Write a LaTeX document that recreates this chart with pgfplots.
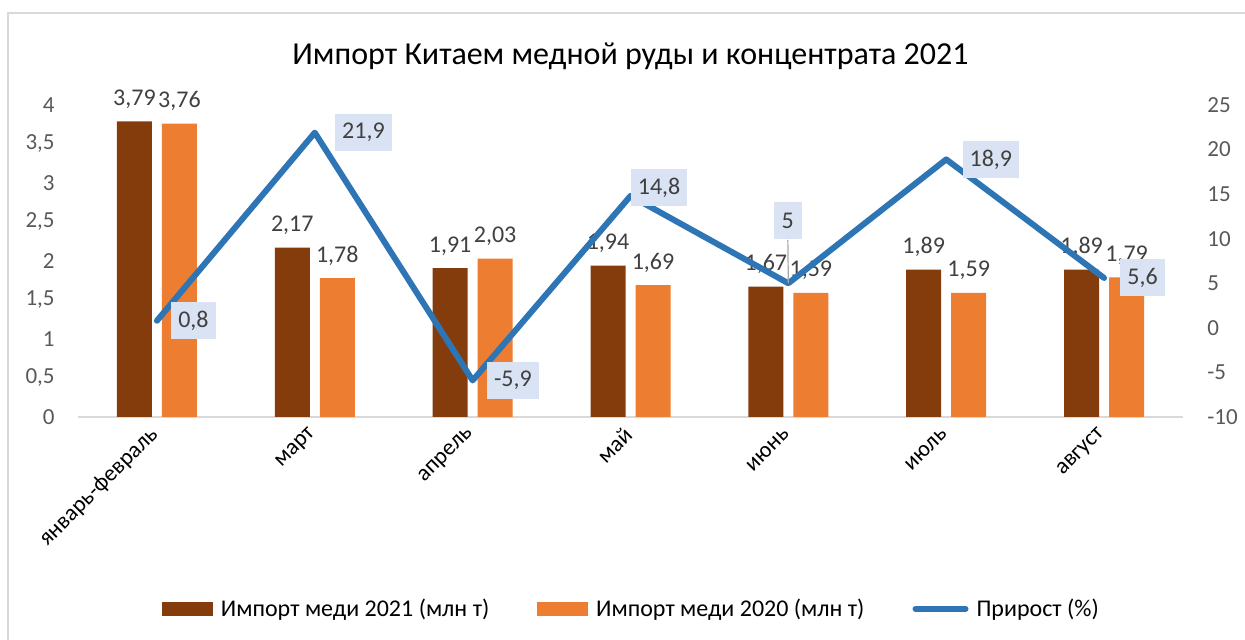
\documentclass[border=0pt]{standalone}
\usepackage{fontspec}
\setmainfont{Carlito}
\usepackage{pgfplots}
\usepackage{pgfplotstable}
\pgfplotsset{compat=1.18}
\definecolor{cA}{HTML}{843C0C}
\definecolor{cB}{HTML}{ED7D31}
\definecolor{cL}{HTML}{2E75B6}
\definecolor{lblbox}{HTML}{DAE3F3}
\definecolor{tick}{HTML}{595959}
\definecolor{lbl}{HTML}{404040}
\definecolor{frame}{HTML}{D9D9D9}

\pgfplotstableread{
x a b la lb
0 3.79 3.76 3,79 3,76
1 2.17 1.78 2,17 1,78
2 1.91 2.03 1,91 2,03
3 1.94 1.69 1,94 1,69
4 1.67 1.59 1,67 1,59
5 1.89 1.59 1,89 1,59
6 1.89 1.79 1,89 1,79
}\bars

\pgfplotstableread{
x y
0 0.8
1 21.9
2 -5.9
3 14.8
4 5
5 18.9
6 5.6
}\growth

\pgfplotstableread{
x y lab
0 0.8 0,8
2 -5.9 -5,9
}\glA
\pgfplotstableread{
x y lab
1 21.9 21,9
}\glB
\pgfplotstableread{
x y lab
3 14.8 14,8
}\glC
\pgfplotstableread{
x y lab
5 18.9 18,9
6 5.6 5,6
}\glD
\pgfplotstableread{
x y
4 5
}\glE

\pgfplotsset{
  lbox/.style 2 args={draw=none, mark=none, forget plot,
    nodes near coords, point meta=explicit symbolic,
    every node near coord/.append style={font=\fontsize{12bp}{14bp}\selectfont, color=lbl, fill=lblbox,
      anchor=west, xshift=#1, yshift=#2, inner xsep=3.5bp, inner ysep=0pt, minimum height=18.5bp}},
}

\begin{document}
\begin{tikzpicture}
\path[use as bounding box] (0,0) rectangle (622.5bp,320bp);
\draw[frame, line width=0.75bp] (4bp,0) -- (4bp,313.5bp) -- (622.5bp,313.5bp);

\pgfplotsset{
  base/.style={
    at={(39bp,111.5bp)}, anchor=south west,
    scale only axis, width=552.5bp, height=156bp,
    xmin=-0.5, xmax=6.5,
    major tick length=0pt,
    /pgf/number format/assume math mode=true,
    /pgf/number format/use comma,
    yticklabel style={font=\fontsize{11.5bp}{13bp}\selectfont, color=tick, inner sep=0pt},
  }
}

\begin{axis}[base,
  ymin=0, ymax=4, ytick={0,0.5,...,4},
  axis y line*=left, y axis line style={draw=none},
  axis x line*=bottom, x axis line style={draw=frame, line width=0.75bp},
  yticklabel style={anchor=east, xshift=-11.5bp},
  xtick={0,...,6},
  xticklabels={январь-февраль,март,апрель,май,июнь,июль,август},
  xticklabel style={font=\fontsize{11.5bp}{13bp}\selectfont, color=black, xshift=-1bp, yshift=-7bp, rotate=45, anchor=east, inner sep=0pt},
  ybar=5bp, bar width=17.5bp,
  nodes near coords,
  point meta=explicit symbolic,
  every node near coord/.append style={font=\fontsize{12bp}{14bp}\selectfont, color=lbl, anchor=base, yshift=8bp, inner sep=0pt},
  every axis title shift=0pt,
  title={Импорт Китаем медной руды и концентрата 2021},
  title style={at={(0.5,1.155)}, anchor=center, font=\fontsize{16bp}{19bp}\selectfont, color=black},
]
\addplot[fill=cA, draw=none] table[x=x, y=a, meta=la] {\bars};
\addplot[fill=cB, draw=none] table[x=x, y=b, meta=lb] {\bars};
\end{axis}

\begin{axis}[base,
  ymin=-10, ymax=25, ytick={-10,-5,...,25},
  axis y line*=right, y axis line style={draw=none},
  axis x line=none,
  yticklabel style={anchor=west, xshift=12bp},
  legend style={at={(0.5,-0.615)}, anchor=center, draw=none, fill=none,
    legend columns=3, font=\fontsize{12bp}{14bp}\selectfont, text=black,
    nodes={inner sep=0pt},
    /tikz/every even column/.append style={column sep=24bp},
    column sep=4bp, inner sep=0pt},
]
\addlegendimage{legend image code/.code={\fill[cA] (0bp,-3.3bp) rectangle (25bp,3.3bp);}}
\addlegendentry{Импорт меди 2021 (млн т)}
\addlegendimage{legend image code/.code={\fill[cB] (0bp,-3.3bp) rectangle (25bp,3.3bp);}}
\addlegendentry{Импорт меди 2020 (млн т)}
\addlegendimage{legend image code/.code={\draw[cL, line width=3bp, line cap=round] (0bp,0bp) -- (25bp,0bp);}}
\addlegendentry{Прирост (\%)}

\addplot[cL, line width=3bp, line join=round, line cap=round, mark=none, forget plot] table[x=x, y=y] {\growth};

\addplot[lbox={7bp}{0bp}] table[x=x, y=y, meta=lab] {\glA};
\addplot[lbox={10bp}{0bp}] table[x=x, y=y, meta=lab] {\glB};
\addplot[lbox={0bp}{4bp}] table[x=x, y=y, meta=lab] {\glC};
\addplot[lbox={8bp}{0bp}] table[x=x, y=y, meta=lab] {\glD};

\addplot[draw=none, mark=none, forget plot,
  nodes near coords={},
  every node near coord/.append style={anchor=center, inner sep=0pt, minimum size=0pt,
    pin={[font=\fontsize{12bp}{14bp}\selectfont, text=lbl, fill=lblbox, inner xsep=4bp, inner ysep=0pt, minimum height=18.5bp, pin distance=21.5bp, pin edge={black!35, line width=0.6bp}]91:5}}]
  table[x=x, y=y] {\glE};
\end{axis}
\end{tikzpicture}
\end{document}
